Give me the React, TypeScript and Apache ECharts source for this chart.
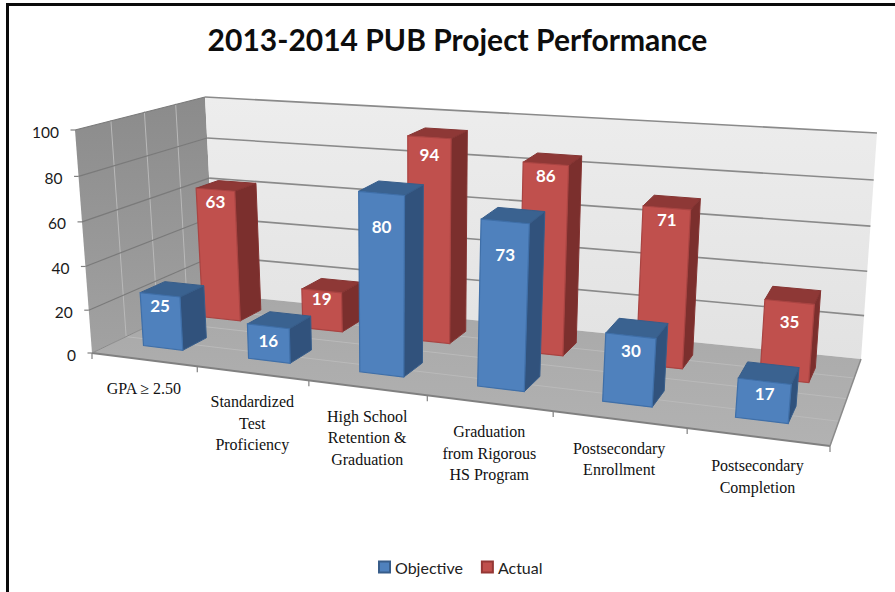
import React, { useEffect, useRef } from "react";
import * as echarts from "echarts";

const chartTitle = "2013-2014 PUB Project Performance";
const categoryLabels = [
  "GPA ≥ 2.50",
  "Standardized\nTest\nProficiency",
  "High School\nRetention &\nGraduation",
  "Graduation\nfrom Rigorous\nHS Program",
  "Postsecondary\nEnrollment",
  "Postsecondary\nCompletion",
];
const objectiveValues = [25, 16, 80, 73, 30, 17];
const actualValues = [63, 19, 94, 86, 71, 35];
const valueTicks = [0, 20, 40, 60, 80, 100];
const seriesNames = ["Objective", "Actual"];

// ---- layout of the 3D box (not data) ----
type P = [number, number];
const FL: P = [92, 353], FR: P = [830, 446], BR: P = [861, 359], BL: P = [215, 294];
const HFL: P = [-17, -223], HFR: P = [22, -245], HBR: P = [16, -226], HBL: P = [-10, -197];
const objectiveLabelDrop = [11, 14, 33, 33, 15, 12];
const actualLabelDrop = [12, 8, 17, 12, 12, 20];
const BAR_HALF = 0.19; // half a bar, in band widths
const BAR_SHIFT: Record<string, number> = { Objective: -0.027, Actual: -0.012 };
const DEPTH: Record<string, P> = { Objective: [0.165, 0.355], Actual: [0.635, 0.825] };
const U_WARP = 0.05, W_WARP = 0.05;

const sx = FL[0] - FR[0] + BR[0] - BL[0];
const sy = FL[1] - FR[1] + BR[1] - BL[1];
const dx1 = FR[0] - BR[0], dx2 = BL[0] - BR[0], dy1 = FR[1] - BR[1], dy2 = BL[1] - BR[1];
const det = dx1 * dy2 - dx2 * dy1;
const g = (sx * dy2 - dx2 * sy) / det;
const h = (dx1 * sy - sx * dy1) / det;

function project(uIn: number, v: number, wIn: number): P {
  const u = uIn + U_WARP * uIn * (1 - uIn);
  const w = wIn - W_WARP * wIn * (1 - wIn);
  const den = g * u + h * v + 1;
  const fx = ((FR[0] - FL[0] + g * FR[0]) * u + (BL[0] - FL[0] + h * BL[0]) * v + FL[0]) / den;
  const fy = ((FR[1] - FL[1] + g * FR[1]) * u + (BL[1] - FL[1] + h * BL[1]) * v + FL[1]) / den;
  const mix = (k: 0 | 1) =>
    HFL[k] * (1 - u) * (1 - v) + HFR[k] * u * (1 - v) + HBR[k] * u * v + HBL[k] * (1 - u) * v;
  return [fx + w * mix(0), fy + w * mix(1)];
}

const norm = (api: any, params: any, cat: number, val: number) => {
  const c = api.coord([cat, val]);
  const s = params.coordSys;
  return { u: (c[0] - s.x) / s.width, w: 1 - (c[1] - s.y) / s.height, band: api.size([1, 0])[0] / s.width };
};

const poly = (pts: P[], fill: any, stroke: string, lineWidth = 1) => ({
  type: "polygon",
  shape: { points: pts },
  style: { fill, stroke, lineWidth },
  silent: true,
});
const seg = (a: P, b: P, stroke: string, lineWidth = 1) => ({
  type: "line",
  shape: { x1: a[0], y1: a[1], x2: b[0], y2: b[1] },
  style: { stroke, lineWidth },
  silent: true,
});

function barRenderer(name: string, colors: any, drops: number[]) {
  return (params: any, api: any) => {
    const cat = api.value(0), val = api.value(1);
    const { u, w, band } = norm(api, params, cat, val);
    const u0 = u + (BAR_SHIFT[name] - BAR_HALF) * band, u1 = u + (BAR_SHIFT[name] + BAR_HALF) * band;
    const [v0, v1] = DEPTH[name];
    const fb0 = project(u0, v0, 0), fb1 = project(u1, v0, 0);
    const ft0 = project(u0, v0, w), ft1 = project(u1, v0, w);
    const bb1 = project(u1, v1, 0), bt0 = project(u0, v1, w), bt1 = project(u1, v1, w);
    const cx = (ft0[0] + ft1[0]) / 2, cy = (ft0[1] + ft1[1]) / 2;
    return {
      type: "group",
      children: [
        poly([ft1, fb1, bb1, bt1], colors.side, colors.sideEdge),
        poly([ft0, ft1, bt1, bt0], colors.top, colors.sideEdge),
        poly([ft0, ft1, fb1, fb0], colors.front, colors.frontEdge, 1.2),
        {
          type: "text",
          silent: true,
          style: {
            text: String(val),
            x: cx,
            y: cy + drops[cat],
            fill: "#ffffff",
            font: "bold 17px Lato",
            align: "center",
            verticalAlign: "middle",
          },
        },
      ],
    };
  };
}

function boxRenderer(params: any, api: any) {
  const ch: any[] = [];
  const vt = [0.25, 0.5, 0.75];
  const bandCount = categoryLabels.length;
  ch.push(
    poly([project(0, 0, 1), project(0, 1, 1), project(0, 1, 0), project(0, 0, 0)], {
      type: "linear", x: 0, y: 0, x2: 0, y2: 1,
      colorStops: [{ offset: 0, color: "#8b8b8b" }, { offset: 1, color: "#a2a2a2" }],
    }, "none"),
    poly([project(0, 1, 1), project(1, 1, 1), project(1, 1, 0), project(0, 1, 0)], {
      type: "linear", x: 0, y: 0, x2: 0, y2: 1,
      colorStops: [{ offset: 0, color: "#ededed" }, { offset: 1, color: "#e2e2e2" }],
    }, "none"),
    poly([project(0, 0, 0), project(1, 0, 0), project(1, 1, 0), project(0, 1, 0)], {
      type: "linear", x: 0, y: 0, x2: 0, y2: 1,
      colorStops: [{ offset: 0, color: "#a8a8a8" }, { offset: 1, color: "#b2b2b2" }],
    }, "none")
  );
  vt.forEach((v) => {
    ch.push(seg(project(0, v, 0), project(0, v, 1), "#b9b9b9", 1));
    ch.push(seg(project(0, v, 0), project(1, v, 0), "#bababa", 1));
  });
  valueTicks.forEach((t) => {
    const { w } = norm(api, params, 0, t);
    const a = project(0, 0, w), b = project(0, 1, w), c = project(1, 1, w);
    if (t > 0) {
      ch.push(seg(a, b, "#7a7a7a", 1.2));
      ch.push(seg(b, c, "#8a8a8a", 1.6));
    }
    ch.push(seg([a[0] - 4.5, a[1]], a, "#808080", 1.2));
    ch.push({
      type: "text",
      silent: true,
      style: {
        text: String(t),
        x: a[0] - 16,
        y: a[1] + 1.5,
        fill: "#1a1a1a",
        font: "15.5px Lato",
        align: "right",
        verticalAlign: "middle",
      },
    });
  });
  ch.push(seg(project(0, 0, 0), project(1, 0, 0), "#808080", 2));
  ch.push(seg(project(1, 0, 0), project(1, 1, 0), "#8a8a8a", 1.5));
  ch.push(seg(project(0, 0, 0), project(0, 1, 0), "#8a8a8a", 1));
  for (let i = 0; i <= bandCount; i++) {
    const p = project(i / bandCount, 0, 0);
    ch.push(seg(p, [p[0], p[1] + 6], "#808080", 1.2));
  }
  categoryLabels.forEach((label, i) => {
    const { u } = norm(api, params, i, 0);
    const p = project(u, 0, 0);
    ch.push({
      type: "text",
      silent: true,
      style: {
        text: label,
        x: p[0],
        y: p[1] + 18,
        fill: "#111111",
        font: '16px "Liberation Serif"',
        lineHeight: 21.5,
        align: "center",
        verticalAlign: "top",
      },
    });
  });
  return { type: "group", children: ch };
}

const BLUE = { front: "#4f81bd", frontEdge: "#3f6fa8", side: "#31527c", top: "#3a6290", sideEdge: "#375d8a" };
const RED = { front: "#c0504d", frontEdge: "#a94442", side: "#7b2f2d", top: "#8e3836", sideEdge: "#853432" };

export default function App() {
  const ref = useRef<HTMLDivElement>(null);
  useEffect(() => {
    document.body.style.margin = "0";
    const chart = echarts.init(ref.current!, undefined, { renderer: "svg" });
    chart.setOption({
      animation: false,
      backgroundColor: "#ffffff",
      title: {
        text: chartTitle,
        left: 452.5,
        top: 19,
        textAlign: "center",
        textStyle: { fontFamily: "Lato", fontWeight: "bold", fontSize: 30, color: "#0d0d0d" },
      },
      grid: { left: 92, top: 130, width: 738, height: 223 },
      xAxis: { type: "category", data: categoryLabels, show: false },
      yAxis: { type: "value", min: 0, max: 100, interval: 20, show: false },
      legend: {
        data: seriesNames,
        left: 373,
        top: 554,
        itemWidth: 11,
        itemHeight: 11,
        itemGap: 18,
        icon: "rect",
        textStyle: { fontFamily: "Lato", fontSize: 16, color: "#222222" },
      },
      graphic: [
        { type: "rect", shape: { x: 6, y: 3, width: 889, height: 3 }, style: { fill: "#0a0a0a" }, silent: true },
        { type: "rect", shape: { x: 6, y: 3, width: 3, height: 589 }, style: { fill: "#0a0a0a" }, silent: true },
      ],
      series: [
        {
          type: "custom",
          name: "Box",
          coordinateSystem: "cartesian2d",
          clip: false,
          silent: true,
          z: 1,
          data: [[0, 0]],
          renderItem: boxRenderer,
        },
        {
          type: "custom",
          name: seriesNames[1],
          coordinateSystem: "cartesian2d",
          clip: false,
          z: 2,
          itemStyle: { color: "#c0504d", borderColor: "#953735", borderWidth: 1 },
          data: actualValues.map((v, i) => [i, v]),
          renderItem: barRenderer(seriesNames[1], RED, actualLabelDrop),
        },
        {
          type: "custom",
          name: seriesNames[0],
          coordinateSystem: "cartesian2d",
          clip: false,
          z: 3,
          itemStyle: { color: "#4f81bd", borderColor: "#385d8a", borderWidth: 1 },
          data: objectiveValues.map((v, i) => [i, v]),
          renderItem: barRenderer(seriesNames[0], BLUE, objectiveLabelDrop),
        },
      ],
    });
    return () => chart.dispose();
  }, []);
  return <div ref={ref} style={{ width: 895, height: 592 }} />;
}
